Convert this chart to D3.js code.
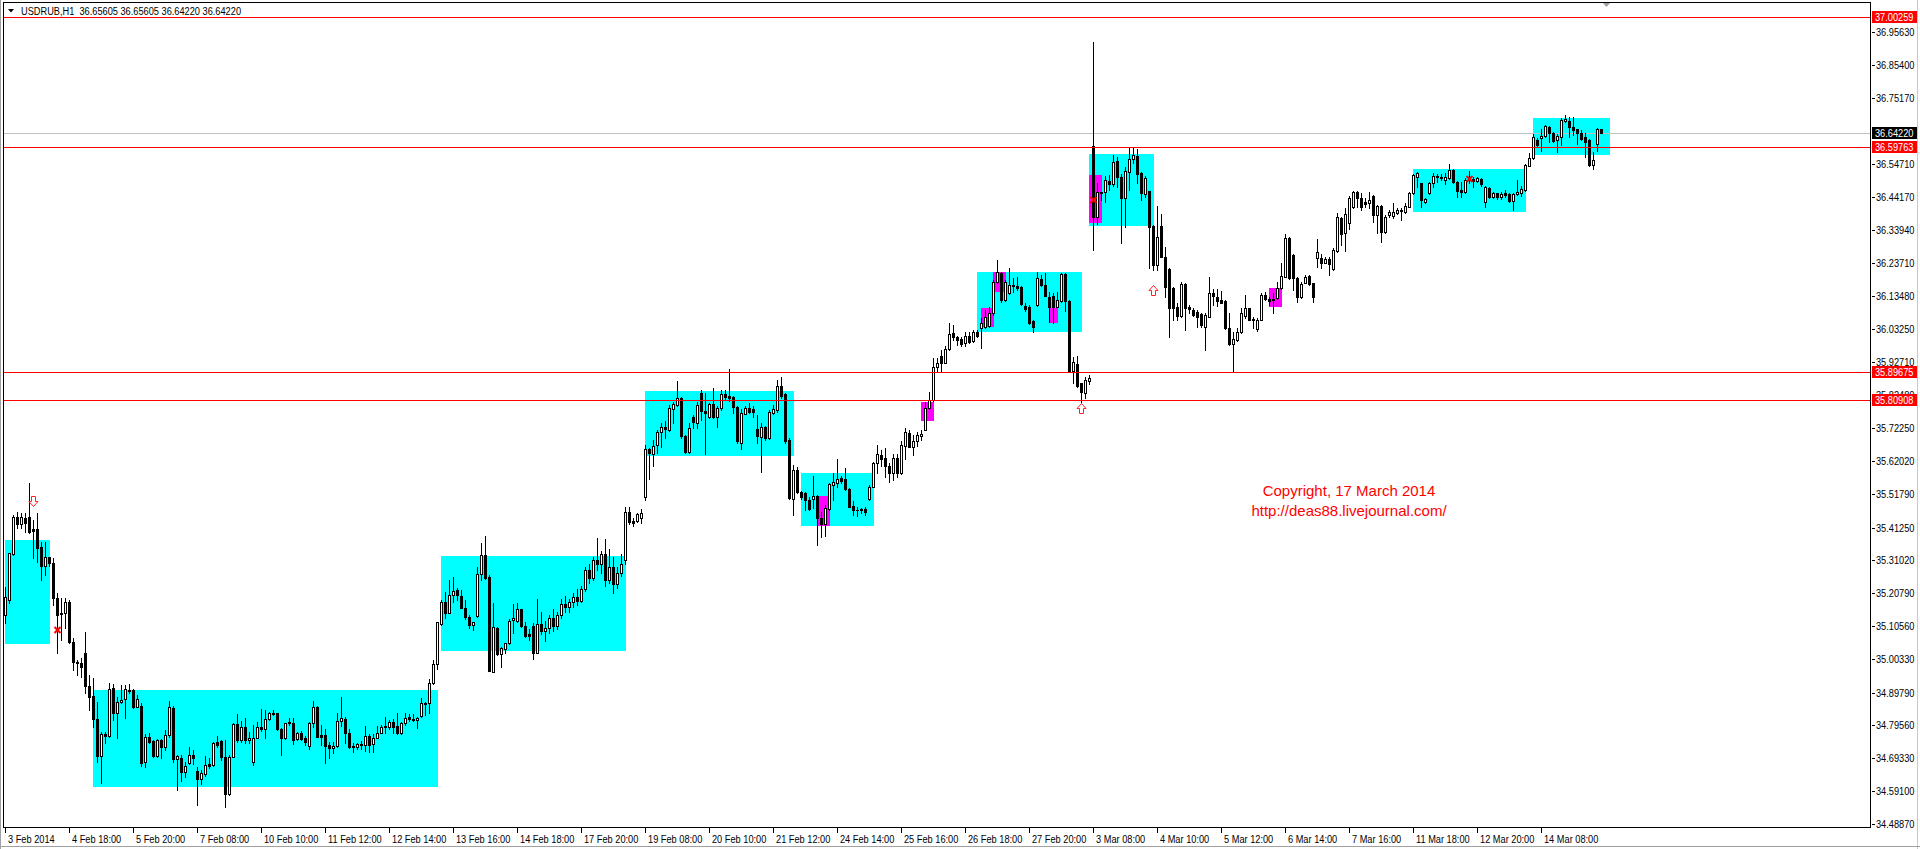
<!DOCTYPE html>
<html><head><meta charset="utf-8">
<script src="https://cdn.jsdelivr.net/npm/d3@7"></script>
<style>
html,body{margin:0;padding:0;background:#fff;overflow:hidden}
svg{display:block}
.ax{font-family:"Liberation Sans",Arial,sans-serif;font-size:11px}
</style></head><body>
<svg id="c" width="1920" height="849"></svg>
<script>
// ---- DATA: hourly bars [open, high, low, close] ----
const barsWeek1 = [
[35.140,35.228,35.114,35.197],[35.187,35.332,35.176,35.332],[35.330,35.452,35.327,35.444],[35.444,35.462,35.410,35.424],
[35.424,35.457,35.412,35.444],[35.441,35.459,35.400,35.428],[35.446,35.550,35.394,35.400],[35.407,35.436,35.317,35.402],
[35.407,35.457,35.306,35.348],[35.351,35.368,35.249,35.294],[35.294,35.368,35.265,35.320],[35.320,35.322,35.293,35.303],
[35.301,35.317,35.171,35.192],[35.192,35.207,35.020,35.140],[35.147,35.192,35.062,35.143],[35.145,35.192,35.098,35.181],
[35.181,35.187,35.052,35.057],[35.055,35.067,34.968,34.992],[34.994,35.000,34.953,34.989],[34.991,35.005,34.948,34.979],
[35.020,35.088,34.896,34.920],[34.918,34.953,34.844,34.885],[34.887,34.942,34.792,34.815],[34.815,34.870,34.683,34.701],
[34.701,34.776,34.617,34.769],[34.769,34.776,34.742,34.763],[34.763,34.927,34.759,34.908],[34.911,34.925,34.813,34.835],
[34.835,34.883,34.758,34.870],[34.870,34.922,34.867,34.875],[34.877,34.922,34.820,34.908],[34.906,34.925,34.896,34.903],
[34.906,34.908,34.849,34.854],[34.854,34.891,34.852,34.878],[34.856,34.865,34.669,34.678],[34.681,34.769,34.667,34.759],
[34.759,34.771,34.740,34.745],[34.747,34.750,34.698,34.701],[34.701,34.752,34.696,34.750],[34.750,34.752,34.693,34.727],
[34.727,34.781,34.719,34.766],[34.766,34.873,34.761,34.854],[34.851,34.856,34.683,34.691],[34.691,34.703,34.594,34.700],
[34.695,34.703,34.623,34.652],[34.652,34.683,34.634,34.669],[34.678,34.729,34.674,34.703],[34.703,34.719,34.674,34.695],
[34.654,34.665,34.548,34.628],[34.628,34.657,34.613,34.646],[34.644,34.700,34.638,34.672],[34.675,34.693,34.662,34.669],
[34.672,34.745,34.669,34.740],[34.745,34.763,34.729,34.735],[34.747,34.750,34.688,34.698],[34.698,34.750,34.542,34.581],
[34.581,34.703,34.579,34.696],[34.698,34.802,34.696,34.799],[34.799,34.831,34.745,34.750],[34.750,34.810,34.745,34.792],
[34.792,34.818,34.742,34.750],[34.750,34.776,34.742,34.755],[34.683,34.797,34.672,34.755],[34.758,34.807,34.755,34.792],
[34.790,34.846,34.779,34.783],[34.783,34.844,34.755,34.815],[34.815,34.836,34.813,34.833],[34.833,34.844,34.828,34.832],
[34.833,34.835,34.781,34.783],[34.783,34.787,34.703,34.755],[34.755,34.804,34.752,34.802],[34.807,34.818,34.797,34.802],
[34.804,34.818,34.738,34.750],[34.752,34.776,34.750,34.771],[34.771,34.779,34.750,34.752],[34.755,34.763,34.735,34.745],
[34.732,34.807,34.721,34.802],[34.802,34.873,34.792,34.852],[34.854,34.856,34.759,34.761],[34.766,34.797,34.735,34.761],
[34.766,34.783,34.680,34.733],[34.735,34.745,34.693,34.724],[34.724,34.745,34.711,34.733],[34.733,34.833,34.729,34.810],
[34.810,34.883,34.795,34.818],[34.816,34.823,34.740,34.771],[34.771,34.783,34.724,34.729],[34.732,34.742,34.714,34.727],
[34.729,34.742,34.721,34.737],[34.735,34.747,34.721,34.738],[34.735,34.795,34.717,34.764],[34.764,34.769,34.714,34.735],
[34.737,34.769,34.714,34.755],[34.758,34.795,34.755,34.773],[34.773,34.797,34.771,34.792],[34.794,34.823,34.771,34.792],
[34.792,34.813,34.783,34.807],[34.807,34.815,34.771,34.792],[34.794,34.835,34.769,34.773],[34.773,34.807,34.769,34.802],
[34.802,34.833,34.797,34.818],[34.821,34.831,34.810,34.815],[34.815,34.831,34.810,34.813],[34.813,34.823,34.789,34.818],
[34.825,34.880,34.823,34.867],[34.867,34.870,34.828,34.861],[34.864,34.939,34.835,34.927],[34.927,35.000,34.925,34.986],
[34.986,35.119,34.970,35.117],[35.111,35.187,35.109,35.179],[35.179,35.213,35.129,35.147],[35.147,35.249,35.145,35.202],
[35.202,35.259,35.181,35.216],[35.218,35.223,35.187,35.202],[35.199,35.218,35.161,35.163],[35.161,35.187,35.126,35.133],
[35.133,35.140,35.098,35.109],[35.109,35.119,35.093,35.117],[35.138,35.291,35.135,35.267],[35.267,35.365,35.249,35.327],
[35.327,35.386,35.251,35.254],[35.259,35.265,34.966,34.966],[34.963,35.176,34.963,35.101],[35.098,35.101,35.015,35.018],
[35.018,35.041,34.977,35.036],[35.033,35.054,35.020,35.052],[35.052,35.126,35.049,35.121],[35.124,35.174,35.083,35.129],
[35.122,35.176,35.119,35.158],[35.158,35.159,35.104,35.107],[35.107,35.119,35.072,35.074],[35.081,35.095,35.062,35.074],
[35.107,35.116,35.003,35.022],[35.022,35.189,35.020,35.111]
];
const barsWeek2 = [
[35.111,35.150,35.080,35.090],[35.090,35.120,35.060,35.100],[35.100,35.140,35.085,35.130],[35.130,35.160,35.090,35.105],
[35.105,35.150,35.095,35.140],[35.140,35.190,35.130,35.175],[35.175,35.200,35.150,35.165],[35.165,35.190,35.150,35.180],
[35.180,35.210,35.165,35.195],[35.195,35.220,35.170,35.185],[35.185,35.230,35.180,35.220],[35.220,35.290,35.215,35.280],
[35.280,35.300,35.240,35.255],[35.255,35.320,35.250,35.310],[35.310,35.380,35.280,35.300],[35.300,35.340,35.270,35.330],
[35.330,35.376,35.230,35.250],[35.250,35.345,35.240,35.290],[35.290,35.320,35.210,35.235],[35.235,35.290,35.225,35.270],
[35.270,35.330,35.260,35.300],[35.310,35.478,35.300,35.462],[35.460,35.476,35.424,35.431],[35.434,35.442,35.416,35.426],
[35.434,35.457,35.431,35.454],[35.442,35.470,35.426,35.457]
];
const barsWeek3 = [
[35.507,35.670,35.499,35.657],[35.657,35.660,35.563,35.644],[35.642,35.686,35.603,35.668],[35.670,35.717,35.644,35.709],
[35.709,35.738,35.665,35.727],[35.725,35.746,35.691,35.719],[35.717,35.795,35.712,35.784],[35.781,35.805,35.738,35.797],
[35.795,35.870,35.790,35.816],[35.816,35.821,35.691,35.699],[35.698,35.701,35.646,35.649],[35.649,35.738,35.646,35.724],
[35.756,35.762,35.722,35.740],[35.738,35.805,35.722,35.795],[35.831,35.840,35.748,35.777],[35.776,35.833,35.642,35.771],
[35.758,35.800,35.753,35.798],[35.798,35.847,35.753,35.758],[35.758,35.790,35.727,35.784],[35.784,35.842,35.779,35.829],
[35.829,35.840,35.813,35.821],[35.823,35.907,35.808,35.816],[35.821,35.823,35.769,35.788],[35.788,35.790,35.675,35.681],
[35.677,35.781,35.657,35.769],[35.767,35.790,35.767,35.784],[35.784,35.800,35.769,35.774],[35.781,35.792,35.756,35.774],
[35.719,35.764,35.677,35.699],[35.694,35.738,35.587,35.727],[35.727,35.729,35.684,35.691],[35.691,35.779,35.688,35.774],
[35.771,35.795,35.767,35.781],[35.779,35.873,35.774,35.854],[35.854,35.881,35.816,35.824],[35.828,35.831,35.675,35.681],
[35.686,35.691,35.501,35.504],[35.501,35.608,35.452,35.592],[35.592,35.601,35.520,35.522],[35.522,35.525,35.501,35.507],
[35.520,35.522,35.468,35.497],[35.497,35.509,35.468,35.470],[35.501,35.574,35.473,35.511],[35.511,35.514,35.359,35.442],
[35.442,35.462,35.382,35.424],[35.424,35.483,35.387,35.473],[35.470,35.551,35.468,35.549],[35.546,35.582,35.499,35.553],
[35.551,35.625,35.540,35.563],[35.566,35.574,35.551,35.559],[35.563,35.598,35.530,35.532],[35.532,35.535,35.476,35.478],
[35.480,35.494,35.452,35.468],[35.468,35.478,35.447,35.466],[35.470,35.473,35.457,35.466],[35.470,35.476,35.452,35.462],
[35.501,35.546,35.497,35.540],[35.540,35.618,35.538,35.613],[35.613,35.670,35.584,35.642],[35.639,35.655,35.603,35.626],
[35.629,35.660,35.571,35.603],[35.603,35.613,35.553,35.584],[35.584,35.642,35.561,35.629],[35.629,35.642,35.569,35.584],
[35.582,35.681,35.580,35.670],[35.667,35.722,35.626,35.709],[35.707,35.717,35.663,35.665],[35.665,35.701,35.639,35.681],
[35.681,35.709,35.667,35.701],[35.698,35.717,35.686,35.704],[35.717,35.805,35.717,35.784],[35.784,35.836,35.781,35.810],
[35.810,35.940,35.808,35.914],[35.914,35.940,35.896,35.927],[35.946,35.966,35.899,35.927],[35.927,35.977,35.925,35.968],
[35.968,36.049,35.966,36.016],[36.018,36.044,35.997,36.006],[36.006,36.010,35.982,35.997],[35.999,36.006,35.977,35.985],
[35.987,36.023,35.977,36.010],[36.010,36.023,35.989,35.992],[35.995,36.027,35.992,36.023],[36.023,36.029,36.006,36.010],
[36.034,36.065,35.971,36.049],[36.039,36.091,36.034,36.070],[36.041,36.101,36.039,36.081],[36.081,36.184,36.075,36.179],
[36.179,36.247,36.174,36.210],[36.207,36.210,36.117,36.122],[36.122,36.184,36.119,36.179],[36.145,36.221,36.141,36.169],
[36.169,36.190,36.148,36.164],[36.166,36.195,36.153,36.159],[36.161,36.164,36.107,36.110],[36.103,36.112,36.086,36.093],
[36.099,36.107,36.047,36.049],[36.055,36.060,36.023,36.037],[36.107,36.210,36.103,36.190],[36.187,36.200,36.164,36.169],
[36.169,36.207,36.133,36.135],[36.132,36.148,36.052,36.101],[36.135,36.143,36.049,36.101],[36.101,36.148,36.099,36.122],
[36.120,36.207,36.117,36.203],[36.203,36.207,36.086,36.120],[36.120,36.122,35.899,35.902],[35.902,35.943,35.864,35.930],
[35.923,35.948,35.852,35.854],[35.862,35.864,35.805,35.836],[35.833,35.883,35.816,35.871],[35.868,35.888,35.860,35.878]
];
const barsWeek4 = [
[36.602,36.927,36.278,36.382],[36.382,36.486,36.359,36.457],[36.459,36.460,36.434,36.454],[36.457,36.508,36.428,36.496],
[36.493,36.511,36.465,36.482],[36.482,36.574,36.478,36.553],[36.555,36.569,36.475,36.506],[36.504,36.515,36.301,36.439],
[36.439,36.537,36.348,36.525],[36.522,36.597,36.465,36.560],[36.560,36.597,36.550,36.574],[36.571,36.593,36.486,36.514],
[36.517,36.522,36.434,36.454],[36.452,36.508,36.442,36.501],[36.462,36.462,36.221,36.348],[36.353,36.356,36.215,36.231],
[36.231,36.415,36.215,36.317],[36.353,36.390,36.255,36.257],[36.255,36.286,36.132,36.163],[36.218,36.221,36.006,36.096],
[36.158,36.163,36.060,36.096],[36.101,36.112,36.058,36.072],[36.072,36.179,36.070,36.172],[36.172,36.176,36.028,36.096],
[36.101,36.106,36.082,36.093],[36.091,36.096,36.072,36.075],[36.085,36.091,36.039,36.070],[36.078,36.082,36.039,36.044],
[36.039,36.080,35.966,36.075],[36.070,36.193,36.068,36.143],[36.143,36.155,36.106,36.134],[36.132,36.155,36.103,36.120],
[36.122,36.151,36.112,36.114],[36.120,36.122,36.031,36.034],[36.034,36.082,35.982,35.985],[35.985,36.023,35.899,36.000],
[35.997,36.034,35.995,36.023],[36.023,36.096,36.020,36.080],[36.072,36.137,36.065,36.096],[36.096,36.098,36.058,36.060],
[36.062,36.068,36.034,36.058],[36.031,36.065,36.026,36.060],[36.060,36.143,36.058,36.137],[36.137,36.148,36.122,36.124],
[36.124,36.132,36.106,36.120],[36.124,36.143,36.082,36.122],[36.127,36.179,36.124,36.158],[36.158,36.236,36.155,36.197],
[36.195,36.328,36.192,36.314],[36.314,36.317,36.186,36.189],[36.262,36.265,36.153,36.189],[36.189,36.195,36.117,36.132],
[36.132,36.179,36.127,36.172],[36.176,36.200,36.174,36.193],[36.197,36.200,36.169,36.172],[36.174,36.176,36.117,36.132],
[36.252,36.311,36.224,36.273],[36.252,36.265,36.221,36.238],[36.238,36.257,36.236,36.249],[36.249,36.257,36.200,36.234],
[36.218,36.283,36.215,36.278],[36.276,36.394,36.273,36.380],[36.376,36.382,36.293,36.328],[36.330,36.408,36.276,36.390],
[36.361,36.446,36.342,36.439],[36.411,36.463,36.408,36.458],[36.458,36.462,36.411,36.439],[36.439,36.456,36.402,36.413],
[36.428,36.439,36.413,36.421],[36.423,36.460,36.408,36.434],[36.446,36.449,36.366,36.387],[36.387,36.418,36.332,36.415],
[36.415,36.418,36.304,36.335],[36.335,36.387,36.332,36.380],[36.387,36.403,36.380,36.397],[36.384,36.425,36.377,36.397],
[36.394,36.408,36.390,36.402],[36.400,36.408,36.371,36.402],[36.397,36.423,36.394,36.415],[36.413,36.460,36.411,36.456],
[36.454,36.515,36.452,36.512],[36.506,36.522,36.475,36.519],[36.486,36.488,36.411,36.434],[36.428,36.439,36.425,36.436],
[36.454,36.491,36.452,36.486],[36.486,36.517,36.475,36.508],[36.504,36.515,36.491,36.508],[36.501,36.515,36.496,36.506],
[36.496,36.517,36.484,36.506],[36.501,36.546,36.498,36.527],[36.527,36.529,36.488,36.491],[36.491,36.494,36.444,36.463],
[36.465,36.491,36.444,36.460],[36.460,36.501,36.455,36.496],[36.496,36.525,36.486,36.501],[36.498,36.506,36.475,36.494],
[36.494,36.506,36.491,36.501],[36.498,36.501,36.477,36.484],[36.428,36.477,36.411,36.473],[36.470,36.473,36.439,36.444],
[36.444,36.460,36.439,36.454],[36.454,36.456,36.436,36.442],[36.442,36.460,36.436,36.452],[36.454,36.465,36.444,36.449],
[36.452,36.454,36.428,36.431],[36.431,36.456,36.402,36.452],[36.452,36.496,36.449,36.460],[36.456,36.477,36.446,36.467],
[36.465,36.546,36.463,36.543],[36.540,36.579,36.538,36.564],[36.564,36.639,36.560,36.629],[36.621,36.626,36.602,36.605],
[36.626,36.654,36.587,36.633],[36.633,36.667,36.629,36.664],[36.662,36.664,36.615,36.643],[36.643,36.647,36.615,36.619],
[36.621,36.639,36.584,36.633],[36.631,36.688,36.605,36.683],[36.681,36.699,36.678,36.685],[36.681,36.691,36.631,36.662],
[36.662,36.691,36.636,36.652],[36.654,36.656,36.608,36.641],[36.643,36.652,36.621,36.623],[36.629,36.641,36.569,36.615],
[36.621,36.623,36.540,36.543],[36.543,36.584,36.529,36.558],[36.608,36.657,36.587,36.654],[36.65605,36.65605,36.64220,36.64220]
];
const bars = barsWeek1.concat(barsWeek2, barsWeek3, barsWeek4);

const xTickLabels = ["3 Feb 2014","4 Feb 18:00","5 Feb 20:00","7 Feb 08:00","10 Feb 10:00","11 Feb 12:00","12 Feb 14:00",
 "13 Feb 16:00","14 Feb 18:00","17 Feb 20:00","19 Feb 08:00","20 Feb 10:00","21 Feb 12:00","24 Feb 14:00","25 Feb 16:00",
 "26 Feb 18:00","27 Feb 20:00","3 Mar 08:00","4 Mar 10:00","5 Mar 12:00","6 Mar 14:00","7 Mar 16:00","11 Mar 18:00",
 "12 Mar 20:00","14 Mar 08:00"];
const barsPerXTick = 16;
const yTickValues = [36.95630,36.85400,36.75170,36.54710,36.44170,36.33940,36.23710,36.13480,36.03250,35.92710,35.82480,
 35.72250,35.62020,35.51790,35.41250,35.31020,35.20790,35.10560,35.00330,34.89790,34.79560,34.69330,34.59100,34.48870];
const levelLines = [37.00259, 36.59763, 35.89675, 35.80908];
const bidPrice = 36.64220;
const header = "USDRUB,H1  36.65605 36.65605 36.64220 36.64220";
// rectangles: [fromBar, toBar, topPrice, bottomPrice]
const cyanBoxes = [[0,11,35.374,35.050],[22,108,34.906,34.605],[109,155,35.324,35.029],[160,197,35.838,35.637],
 [199,217,35.584,35.417],[243,269,36.209,36.023],[271,287,36.577,36.353],[352,380,36.530,36.397],[382,401,36.689,36.574]];
const magentaBoxes = [[203,206,35.511,35.417],[229,232,35.805,35.745],[244,247,36.097,36.039],[247,250,36.209,36.148],
 [261,263,36.097,36.050],[271,274,36.512,36.363],[316,319,36.160,36.101]];
const downArrows = [[7,35.511]];
const upArrows = [[269,35.802],[287,36.169]];
const crossMarks = [[13,35.093],[272,36.434],[366,36.498]];
const noteLines = ["Copyright, 17 March 2014","http://deas88.livejournal.com/"];
const notePos = [1349, 35.511];

// ---- LAYOUT ----
const L=3, R=1870, T=2, B=827;
const NARROW = 0.84; // MT4 axis font is narrower than Liberation Sans
const x = d3.scaleLinear().domain([0,100]).range([5,405]);
const y = d3.scaleLinear().domain([34.4790,37.0508]).range([B,T]);
const svg = d3.select("#c");
svg.append("rect").attr("width",1920).attr("height",849).attr("fill","#fff");
svg.append("defs").append("clipPath").attr("id","pc").append("rect")
  .attr("x",L).attr("y",T).attr("width",R-L).attr("height",B-T);
const plot = svg.append("g").attr("clip-path","url(#pc)").attr("shape-rendering","crispEdges");

// horizontally condense a text about its anchor x
function narrow(sel){
  sel.each(function(){ const x0=+this.getAttribute("x");
    this.setAttribute("transform",`translate(${x0},0) scale(${NARROW},1) translate(${-x0},0)`); });
}
function box(g, arr, color){
  g.selectAll(null).data(arr).enter().append("rect")
   .attr("x",d=>Math.round(x(d[0]))).attr("width",d=>Math.round(x(d[1]))-Math.round(x(d[0]))+1)
   .attr("y",d=>Math.round(y(d[2]))).attr("height",d=>Math.round(y(d[3]))-Math.round(y(d[2])))
   .attr("fill",color);
}
box(plot, cyanBoxes, "#00FFFF");
box(plot, magentaBoxes, "#FF00FF");

// bid line
plot.append("rect").attr("x",L).attr("width",R-L).attr("y",Math.round(y(bidPrice))).attr("height",1).attr("fill","#C0C0C0");

// candles
const cg = plot.append("g");
bars.forEach((b,i)=>{
  const [o,h,l,c]=b; const cx=Math.round(x(i));
  const yh=Math.round(y(h)), yl=Math.round(y(l));
  cg.append("rect").attr("x",cx).attr("y",yh).attr("width",1).attr("height",Math.max(1,yl-yh+1)).attr("fill","#000");
  const top=Math.round(y(Math.max(o,c))), bot=Math.round(y(Math.min(o,c)));
  cg.append("rect").attr("x",cx-1).attr("y",top).attr("width",3).attr("height",Math.max(1,bot-top+1)).attr("fill","#000");
  if(c>o && bot-top>=2){
    cg.append("rect").attr("x",cx).attr("y",top+1).attr("width",1).attr("height",bot-top-1).attr("fill","#fff");
  }
});

// level lines
plot.selectAll(null).data(levelLines).enter().append("rect")
  .attr("x",L).attr("width",R-L).attr("y",d=>Math.round(y(d))).attr("height",1).attr("fill","#FF0000");

// arrows and marks
const ag = svg.append("g").attr("clip-path","url(#pc)");
downArrows.forEach(([i,p])=>{
  const cx=Math.round(x(i))+0.5, t=Math.round(y(p))+0.5;
  ag.append("path").attr("d",`M${cx-2},${t} H${cx+2} V${t+5} H${cx+4.5} L${cx},${t+10} L${cx-4.5},${t+5} H${cx-2} Z`)
    .attr("fill","#fff").attr("stroke","#FF2020").attr("stroke-width",1);
});
upArrows.forEach(([i,p])=>{
  const cx=Math.round(x(i))+0.5, t=Math.round(y(p))+0.5;
  ag.append("path").attr("d",`M${cx},${t} L${cx+4.5},${t+5} H${cx+2} V${t+10} H${cx-2} V${t+5} H${cx-4.5} Z`)
    .attr("fill","#fff").attr("stroke","#FF2020").attr("stroke-width",1);
});
crossMarks.forEach(([i,p])=>{
  const cx=Math.round(x(i))+0.5, cy=Math.round(y(p));
  ag.append("path").attr("d",`M${cx-3},${cy-3} L${cx+3},${cy+3} M${cx+3},${cy-3} L${cx-3},${cy+3}`)
    .attr("stroke","#FF0000").attr("stroke-width",2);
});

// note text
const nt = svg.append("text").attr("x",notePos[0]).attr("y",y(notePos[1])).attr("text-anchor","middle")
  .attr("fill","#FF0000").style("font-family","'Liberation Sans',Arial,sans-serif").style("font-size","15px");
noteLines.forEach((s,k)=>nt.append("tspan").attr("x",notePos[0]).attr("dy",k?20:0).text(s));

// frame & axes
const fr = svg.append("g").attr("shape-rendering","crispEdges");
fr.append("rect").attr("x",0).attr("y",0).attr("width",1).attr("height",849).attr("fill","#A0A0A0");
fr.append("rect").attr("x",1917).attr("y",0).attr("width",1).attr("height",849).attr("fill","#C8C8C8");
fr.append("rect").attr("x",0).attr("y",846).attr("width",1920).attr("height",1).attr("fill","#A0A0A0");
fr.append("rect").attr("x",L).attr("y",T).attr("width",R-L).attr("height",1).attr("fill","#000");
fr.append("rect").attr("x",L).attr("y",T).attr("width",1).attr("height",B-T).attr("fill","#000");
fr.append("rect").attr("x",R).attr("y",T).attr("width",1).attr("height",B-T+1).attr("fill","#000");
fr.append("rect").attr("x",L).attr("y",B).attr("width",R-L+1).attr("height",1).attr("fill","#000");

// y axis
const ya = svg.append("g").attr("class","ax");
yTickValues.forEach(v=>{
  const yy=Math.round(y(v));
  ya.append("rect").attr("x",R+2).attr("y",yy).attr("width",3).attr("height",1).attr("fill","#000");
  ya.append("text").attr("x",R+6).attr("y",yy+4).attr("fill","#000").text(d3.format(".5f")(v)).call(narrow);
});
function priceLabel(v, bg){
  const yy=Math.round(y(v));
  ya.append("rect").attr("x",R+2).attr("y",yy-6).attr("width",45).attr("height",12).attr("fill",bg);
  ya.append("text").attr("x",R+5).attr("y",yy+4).attr("fill","#fff").text(d3.format(".5f")(v)).call(narrow);
}
levelLines.forEach(v=>priceLabel(v,"#FF0000"));
priceLabel(bidPrice,"#000");

// x axis
const xa = svg.append("g").attr("class","ax");
xTickLabels.forEach((s,k)=>{
  const xx=Math.round(x(k*barsPerXTick));
  xa.append("rect").attr("x",xx).attr("y",B+1).attr("width",1).attr("height",5).attr("fill","#000");
  xa.append("text").attr("x",xx+3).attr("y",B+16).attr("fill","#000").text(s).call(narrow);
});

// header
svg.append("path").attr("d","M8,9 L14,9 L11,12.5 Z").attr("fill","#000");
svg.append("text").attr("class","ax").attr("x",21).attr("y",15).attr("fill","#000")
  .style("white-space","pre").text(header).call(narrow);
// chart shift marker
svg.append("path").attr("d","M1603,3 L1610,3 L1606.5,7 Z").attr("fill","#A0A0A0");
</script>
</body></html>
